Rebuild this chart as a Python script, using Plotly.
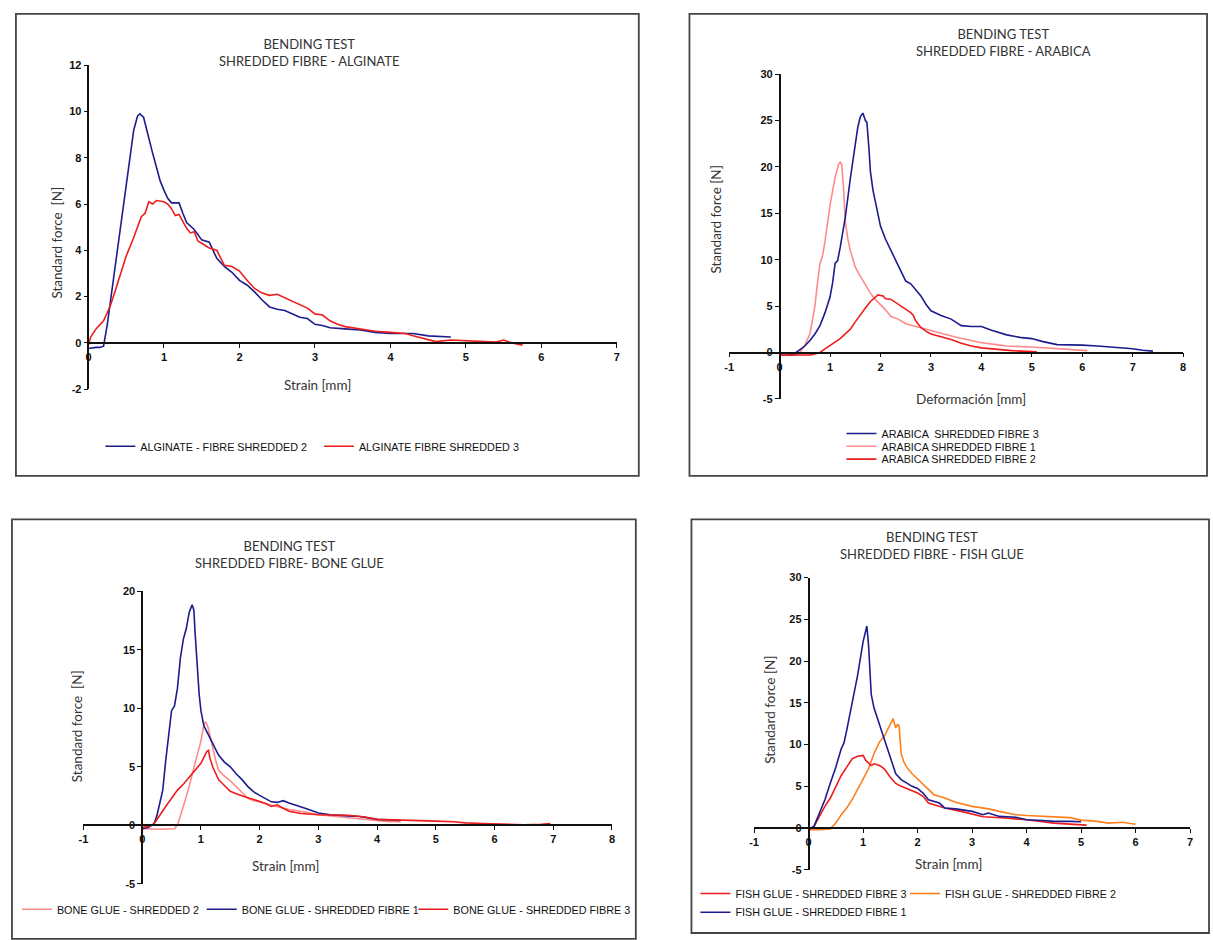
import plotly.graph_objects as go

W, H = 1213, 940

# ---------------- DATA ----------------
# Panel 1: ALGINATE
alg2_x = [0, 0.05, 0.1, 0.15, 0.2, 0.25, 0.3, 0.35, 0.4, 0.45, 0.5, 0.55, 0.6, 0.65, 0.68, 0.73, 0.77, 0.8, 0.85, 0.9, 0.95,
          1.0, 1.05, 1.1, 1.2, 1.25, 1.3, 1.4, 1.5, 1.6, 1.7, 1.8, 1.9, 2.0, 2.1, 2.2, 2.3, 2.4, 2.5, 2.6, 2.7, 2.8,
          2.9, 3.0, 3.1, 3.2, 3.4, 3.6, 3.8, 4.0, 4.2, 4.3, 4.5, 4.7, 4.8]
alg2_y = [-0.25, -0.22, -0.2, -0.2, -0.15, 0.8, 2.0, 3.3, 4.5, 5.8, 7.0, 8.2, 9.2, 9.8, 9.9, 9.75, 9.2, 8.8, 8.2, 7.6, 7.0,
          6.6, 6.25, 6.05, 6.05, 5.6, 5.2, 4.9, 4.45, 4.35, 3.65, 3.3, 3.05, 2.7, 2.5, 2.2, 1.85, 1.55, 1.45, 1.4, 1.25, 1.1,
          1.05, 0.8, 0.75, 0.65, 0.6, 0.55, 0.45, 0.4, 0.4, 0.4, 0.3, 0.28, 0.25]
alg3_x = [0, 0.03, 0.1, 0.2, 0.25, 0.3, 0.35, 0.4, 0.5, 0.6, 0.7, 0.75, 0.8, 0.85, 0.9, 1.0, 1.05, 1.1, 1.15, 1.2, 1.3,
          1.35, 1.4, 1.45, 1.5, 1.6, 1.7, 1.75, 1.8, 1.9, 2.0, 2.1, 2.2, 2.3, 2.4, 2.5, 2.6, 2.7, 2.8, 2.9, 3.0, 3.1,
          3.2, 3.3, 3.4, 3.6, 3.8, 4.0, 4.2, 4.3, 4.5, 4.6, 4.8, 5.0, 5.2, 5.4, 5.5, 5.6, 5.75]
alg3_y = [-0.1, 0.25, 0.6, 0.95, 1.3, 1.7, 2.2, 2.75, 3.75, 4.55, 5.45, 5.6, 6.1, 6.0, 6.15, 6.1, 6.0, 5.8, 5.5, 5.55, 4.95,
          4.75, 4.8, 4.4, 4.3, 4.1, 4.0, 3.7, 3.35, 3.3, 3.1, 2.7, 2.35, 2.15, 2.05, 2.1, 1.95, 1.8, 1.65, 1.5, 1.25, 1.2,
          0.95, 0.8, 0.7, 0.6, 0.5, 0.45, 0.4, 0.3, 0.15, 0.05, 0.12, 0.1, 0.07, 0.03, 0.12, 0.0, -0.1]

# Panel 2: ARABICA
arab3_x = [0, 0.2, 0.3, 0.4, 0.5, 0.6, 0.7, 0.8, 0.9, 1.0, 1.05, 1.1, 1.15, 1.2, 1.3, 1.4, 1.5, 1.55, 1.6, 1.65, 1.7,
           1.73, 1.77, 1.8, 1.85, 1.9, 2.0, 2.1, 2.2, 2.3, 2.4, 2.5, 2.6, 2.7, 2.8, 2.9, 3.0, 3.2, 3.4, 3.6, 3.8, 4.0,
           4.2, 4.5, 4.8, 5.0, 5.2, 5.5, 5.8, 6.0, 6.3, 6.6, 7.0, 7.2, 7.4]
arab3_y = [-0.3, -0.3, -0.1, 0.3, 0.7, 1.3, 2.0, 2.9, 4.3, 6.0, 7.5, 9.6, 9.9, 11.3, 14.5, 18.7, 22.6, 24.3, 25.4, 25.8, 25.0,
           24.8, 22.0, 19.5, 17.5, 16.3, 13.6, 12.2, 11.1, 10.0, 8.9, 7.7, 7.4, 6.8, 6.1, 5.2, 4.5, 4.0, 3.6, 2.9, 2.8, 2.8,
           2.4, 1.9, 1.6, 1.5, 1.2, 0.85, 0.85, 0.8, 0.7, 0.6, 0.4, 0.25, 0.15]
arab1_x = [0, 0.3, 0.4, 0.5, 0.6, 0.7, 0.75, 0.8, 0.85, 0.9, 1.0, 1.1, 1.17, 1.2, 1.23, 1.27, 1.3, 1.35, 1.4, 1.5, 1.6,
           1.7, 1.8, 1.9, 2.0, 2.1, 2.2, 2.35, 2.5, 2.7, 3.0, 3.3, 3.5, 3.8, 4.0, 4.3, 4.5, 5.0, 5.5, 5.8, 6.1]
arab1_y = [-0.3, -0.3, 0.0, 0.8, 2.0, 5.0, 7.5, 9.6, 10.4, 12.0, 15.9, 18.9, 20.3, 20.5, 20.3, 17.5, 14.2, 12.3, 11.0, 9.2, 8.2,
           7.3, 6.4, 5.7, 5.2, 4.6, 3.9, 3.6, 3.1, 2.8, 2.4, 1.9, 1.65, 1.3, 1.05, 0.85, 0.7, 0.6, 0.4, 0.3, 0.2]
arab2_x = [0, 0.4, 0.6, 0.7, 0.8, 0.9, 1.0, 1.1, 1.2, 1.3, 1.4, 1.5, 1.6, 1.7, 1.8, 1.9, 1.95, 2.05, 2.1, 2.2, 2.3, 2.4,
           2.5, 2.6, 2.65, 2.7, 2.8, 2.9, 3.0, 3.2, 3.4, 3.6, 3.8, 4.0, 4.3, 4.6, 5.1]
arab2_y = [-0.3, -0.3, -0.25, -0.15, 0.0, 0.4, 0.8, 1.1, 1.5, 2.0, 2.5, 3.3, 4.1, 4.8, 5.5, 6.0, 6.2, 6.1, 5.8, 5.75, 5.4, 5.0,
           4.7, 4.3, 4.0, 3.4, 2.7, 2.3, 2.0, 1.7, 1.4, 1.0, 0.7, 0.5, 0.35, 0.2, 0.07]

# Panel 3: BONE GLUE
bg1_x = [0, 0.1, 0.2, 0.25, 0.3, 0.35, 0.4, 0.45, 0.5, 0.55, 0.6, 0.65, 0.7, 0.75, 0.8, 0.85, 0.88, 0.9, 0.93, 0.97, 1.0,
         1.05, 1.1, 1.15, 1.25, 1.3, 1.4, 1.5, 1.6, 1.7, 1.8, 1.9, 2.0, 2.1, 2.2, 2.3, 2.4, 2.5, 2.6, 2.8, 3.0, 3.2,
         3.5, 3.7, 4.0, 4.2, 4.4]
bg1_y = [-0.3, -0.2, 0.1, 0.8, 1.9, 3.0, 5.5, 7.8, 9.8, 10.2, 11.7, 14.3, 15.9, 16.8, 18.2, 18.85, 18.4, 16.5, 14.0, 11.2, 9.8,
         8.5, 8.0, 7.5, 6.6, 6.0, 5.4, 5.0, 4.4, 3.9, 3.3, 2.85, 2.55, 2.3, 2.0, 1.95, 2.1, 1.9, 1.75, 1.4, 1.05, 0.9,
         0.8, 0.75, 0.5, 0.45, 0.4]
bg2_x = [0, 0.3, 0.55, 0.6, 0.7, 0.8, 0.9, 1.0, 1.05, 1.08, 1.12, 1.16, 1.2, 1.25, 1.3, 1.4, 1.5, 1.6, 1.7, 1.8, 1.9, 2.0,
         2.2, 2.5, 2.8, 3.0, 3.3, 3.5, 3.8, 4.0, 4.2, 4.4]
bg2_y = [-0.3, -0.35, -0.3, 0.0, 1.6, 3.3, 5.3, 7.2, 8.6, 8.85, 8.4, 7.5, 6.7, 5.6, 4.7, 4.2, 3.8, 3.3, 2.8, 2.3, 2.1, 2.0,
         1.7, 1.35, 1.1, 0.9, 0.75, 0.65, 0.5, 0.35, 0.3, 0.3]
bg3_x = [0, 0.1, 0.2, 0.3, 0.4, 0.5, 0.6, 0.7, 0.8, 0.9, 1.0, 1.05, 1.1, 1.13, 1.15, 1.2, 1.3, 1.4, 1.5, 1.6, 1.7, 1.8,
         1.9, 2.0, 2.1, 2.2, 2.3, 2.4, 2.5, 2.7, 3.0, 3.5, 3.8, 4.0, 4.5, 5.0, 5.3, 5.5, 5.8, 6.0, 6.3, 6.5, 6.8, 6.95]
bg3_y = [-0.2, -0.1, 0.1, 0.9, 1.6, 2.3, 3.0, 3.5, 4.1, 4.7, 5.3, 5.8, 6.3, 6.4, 5.8, 5.0, 3.9, 3.4, 2.9, 2.7, 2.5, 2.35,
         2.2, 2.05, 1.85, 1.6, 1.75, 1.45, 1.2, 1.0, 0.9, 0.85, 0.7, 0.5, 0.45, 0.35, 0.3, 0.2, 0.15, 0.1, 0.05, 0.03, 0.08, 0.14]

# Panel 4: FISH GLUE
fg1_x = [0, 0.1, 0.2, 0.3, 0.4, 0.5, 0.6, 0.65, 0.7, 0.8, 0.9, 1.0, 1.07, 1.1, 1.13, 1.15, 1.2, 1.3, 1.4, 1.5, 1.6, 1.7,
         1.8, 1.9, 2.0, 2.1, 2.2, 2.3, 2.4, 2.5, 2.7, 3.0, 3.1, 3.2, 3.3, 3.5, 3.8, 4.0, 4.3, 4.5, 4.8, 5.0]
fg1_y = [-0.1, 0.2, 1.8, 3.4, 5.4, 7.3, 9.5, 10.2, 11.7, 15.2, 18.3, 22.3, 24.2, 22.0, 18.0, 16.0, 14.4, 12.4, 10.5, 8.3, 6.5,
         5.8, 5.35, 5.0, 4.75, 4.2, 3.4, 3.2, 3.0, 2.4, 2.3, 2.0, 1.8, 1.6, 1.8, 1.4, 1.3, 1.0, 0.9, 0.8, 0.8, 0.75]
fg3_x = [0, 0.1, 0.2, 0.3, 0.4, 0.5, 0.6, 0.7, 0.8, 0.9, 1.0, 1.05, 1.1, 1.15, 1.2, 1.3, 1.35, 1.4, 1.5, 1.6, 1.7, 1.8,
         1.9, 2.0, 2.1, 2.2, 2.3, 2.5, 2.8, 3.0, 3.2, 3.6, 4.0, 4.5, 4.8, 5.1]
fg3_y = [-0.2, 0.2, 1.4, 2.6, 3.6, 5.0, 6.3, 7.3, 8.3, 8.6, 8.7, 8.1, 7.8, 7.5, 7.7, 7.5, 7.3, 7.0, 6.1, 5.35, 5.0, 4.75,
         4.5, 4.2, 3.8, 3.0, 2.8, 2.4, 2.0, 1.7, 1.35, 1.2, 1.0, 0.6, 0.5, 0.35]
fg2_x = [0, 0.2, 0.4, 0.5, 0.6, 0.7, 0.8, 0.9, 1.0, 1.1, 1.2, 1.3, 1.4, 1.5, 1.55, 1.6, 1.63, 1.66, 1.7, 1.75, 1.8, 1.9,
         2.0, 2.1, 2.2, 2.3, 2.5, 2.7, 3.0, 3.3, 3.5, 3.8, 4.0, 4.3, 4.5, 4.8, 5.0, 5.3, 5.5, 5.75, 6.0]
fg2_y = [-0.2, -0.2, -0.1, 0.6, 1.6, 2.4, 3.4, 4.6, 5.75, 7.1, 8.9, 10.3, 11.1, 12.4, 13.1, 12.0, 12.4, 12.3, 8.9, 7.9, 7.3,
         6.5, 5.9, 5.2, 4.6, 4.0, 3.6, 3.1, 2.6, 2.3, 2.0, 1.6, 1.5, 1.4, 1.35, 1.25, 0.95, 0.8, 0.6, 0.7, 0.45]

# tick labels
p1_xticks = [0, 1, 2, 3, 4, 5, 6, 7]
p1_yticks = [-2, 0, 2, 4, 6, 8, 10, 12]
p2_xticks = [-1, 0, 1, 2, 3, 4, 5, 6, 7, 8]
p2_yticks = [-5, 0, 5, 10, 15, 20, 25, 30]
p3_xticks = [-1, 0, 1, 2, 3, 4, 5, 6, 7, 8]
p3_yticks = [-5, 0, 5, 10, 15, 20]
p4_xticks = [-1, 0, 1, 2, 3, 4, 5, 6, 7]
p4_yticks = [-5, 0, 5, 10, 15, 20, 25, 30]

BLUE = "#1c1c8e"
RED = "#ee1c1c"
PINK = "#ff8a8a"
ORANGE = "#ff7f1e"

TITLE_FONT = dict(family="Lato, Open Sans, sans-serif", size=13, color="#333333")
AXT_FONT = dict(family="Lato, Open Sans, sans-serif", size=13.5, color="#333333")
TICK_FONT = dict(family="Liberation Sans, Arial, sans-serif", size=11, color="#111111", weight="bold")
LEG_FONT = dict(family="Liberation Sans, Arial, sans-serif", size=10.8, color="#111111")

fig = go.Figure()

# panel geometry (pixels)
panels = [
    dict(k="", xr=[0, 7], yr=[-2, 12], xpx=(84, 616), ypx=(60, 388), xt=p1_xticks, yt=p1_yticks),
    dict(k="2", xr=[-1, 8], yr=[-5, 30], xpx=(729, 1186), ypx=(69, 398), xt=p2_xticks, yt=p2_yticks),
    dict(k="3", xr=[-1, 8], yr=[-5, 20], xpx=(79, 611), ypx=(593, 889), xt=p3_xticks, yt=p3_yticks),
    dict(k="4", xr=[-1, 7], yr=[-5, 30], xpx=(754, 1193), ypx=(579, 875), xt=p4_xticks, yt=p4_yticks),
]

for p in panels:
    xd = [p["xpx"][0] / W, p["xpx"][1] / W]
    yd = [1 - p["ypx"][1] / H, 1 - p["ypx"][0] / H]
    # where the axes cross (data 0) in paper coords, via the axis scale
    xpos0 = xd[0] + (0 - p["xr"][0]) / (p["xr"][1] - p["xr"][0]) * (xd[1] - xd[0])
    ypos0 = yd[0] + (0 - p["yr"][0]) / (p["yr"][1] - p["yr"][0]) * (yd[1] - yd[0])
    common = dict(showgrid=False, zeroline=False, showline=True, linecolor="#111111", linewidth=1.6,
                  ticks="outside", ticklen=4, tickwidth=1.4, tickcolor="#111111", tickfont=TICK_FONT,
                  tickmode="array", fixedrange=True, anchor="free")
    fig.layout["xaxis" + p["k"]] = dict(domain=xd, range=p["xr"], position=ypos0,
                                        tickvals=p["xt"], ticktext=[str(v) for v in p["xt"]], **common)
    fig.layout["yaxis" + p["k"]] = dict(domain=yd, range=p["yr"], position=xpos0,
                                        tickvals=p["yt"], ticktext=[str(v) for v in p["yt"]], **common)


def add(x, y, name, color, k, legend):
    fig.add_trace(go.Scatter(x=x, y=y, name=name, mode="lines",
                             line=dict(color=color, width=1.6),
                             xaxis="x" + k, yaxis="y" + k, legend=legend))


add(alg2_x, alg2_y, "ALGINATE - FIBRE SHREDDED 2", BLUE, "", "legend")
add(alg3_x, alg3_y, "ALGINATE FIBRE SHREDDED 3", RED, "", "legend2")

add(arab1_x, arab1_y, "ARABICA SHREDDED FIBRE 1", PINK, "2", "legend4")
add(arab3_x, arab3_y, "ARABICA  SHREDDED FIBRE 3", BLUE, "2", "legend3")
add(arab2_x, arab2_y, "ARABICA SHREDDED FIBRE 2", RED, "2", "legend5")

add(bg2_x, bg2_y, "BONE GLUE - SHREDDED 2", PINK, "3", "legend6")
add(bg1_x, bg1_y, "BONE GLUE - SHREDDED FIBRE 1", BLUE, "3", "legend7")
add(bg3_x, bg3_y, "BONE GLUE - SHREDDED FIBRE 3", RED, "3", "legend8")

add(fg2_x, fg2_y, "FISH GLUE - SHREDDED FIBRE 2", ORANGE, "4", "legend10")
add(fg3_x, fg3_y, "FISH GLUE - SHREDDED FIBRE 3", RED, "4", "legend9")
add(fg1_x, fg1_y, "FISH GLUE - SHREDDED FIBRE 1", BLUE, "4", "legend11")

TEXT_OFFSET = 42  # legend box left -> legend text start (px)


def leg(text_x, ypx):
    return dict(x=(text_x - TEXT_OFFSET) / W, y=1 - ypx / H, xanchor="left", yanchor="middle",
                orientation="h", bgcolor="rgba(0,0,0,0)", font=LEG_FONT, itemwidth=30)


legs = {
    "legend": leg(138, 446),
    "legend2": leg(358, 446),
    "legend3": leg(884, 433),
    "legend4": leg(884, 446),
    "legend5": leg(884, 459),
    "legend6": leg(54, 915),
    "legend7": leg(240, 915),
    "legend8": leg(453, 915),
    "legend9": leg(737, 899),
    "legend10": leg(948, 899),
    "legend11": leg(737, 918),
}
fig.update_layout(**legs)

# boxes around each chart
boxes = [(11, 8, 638, 476), (689, 8, 1210, 476), (7, 520, 635, 945), (691, 520, 1212, 939)]
shapes = [dict(type="rect", xref="paper", yref="paper", x0=a / W, x1=c / W, y0=1 - d / H, y1=1 - b / H,
               line=dict(color="#444444", width=1.8), layer="below") for a, b, c, d in boxes]

titles = [
    ("BENDING TEST<br>SHREDDED FIBRE - ALGINATE", 306, 47),
    ("BENDING TEST<br>SHREDDED FIBRE - ARABICA", 1005, 37),
    ("BENDING TEST<br>SHREDDED FIBRE- BONE GLUE", 286, 556),
    ("BENDING TEST<br>SHREDDED FIBRE - FISH GLUE", 933, 546),
]
ann = [dict(text=t, x=x / W, y=1 - y / H, xref="paper", yref="paper", showarrow=False,
            xanchor="center", yanchor="middle", font=TITLE_FONT, align="center") for t, x, y in titles]

axis_titles = [
    ("Standard force  [N]", 52, 240, -90),
    ("Strain [mm]", 315, 384, 0),
    ("Standard force [N]", 716, 216, -90),
    ("Deformación [mm]", 972, 398, 0),
    ("Standard force  [N]", 72, 730, -90),
    ("Strain [mm]", 282, 871, 0),
    ("Standard force [N]", 770, 713, -90),
    ("Strain [mm]", 950, 869, 0),
]
for t, x, y, a in axis_titles:
    ann.append(dict(text=t, x=x / W, y=1 - y / H, xref="paper", yref="paper", showarrow=False,
                    xanchor="center", yanchor="middle", textangle=a, font=AXT_FONT))

fig.update_layout(width=W, height=H, autosize=False, margin=dict(l=0, r=0, t=0, b=0, pad=0),
                  paper_bgcolor="white", plot_bgcolor="rgba(0,0,0,0)", shapes=shapes, annotations=ann,
                  showlegend=True)

fig.write_html("out.html")
